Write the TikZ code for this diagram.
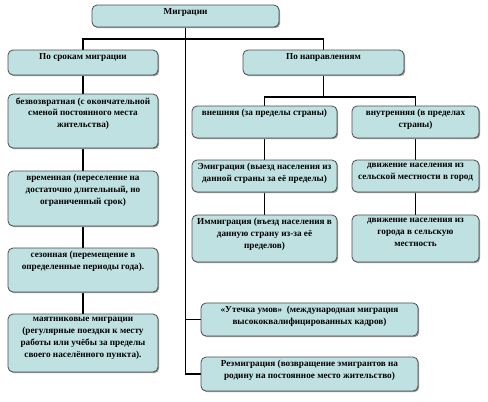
\documentclass[tikz,border=0pt]{standalone}
\usepackage{fontspec}
\setmainfont{Liberation Serif}
\usepackage{tikz}
\usetikzlibrary{positioning, backgrounds, shadows}
\definecolor{boxFill}{HTML}{BFE1E1}
\definecolor{boxEdge}{HTML}{4D4D4D}
% box text: width, height (px), text
\newcommand{\boxtext}[3]{\parbox[c][\dimexpr#2pt-7pt\relax][t]{\dimexpr#1pt-4pt\relax}{\centering #3}}

\begin{document}
\begin{tikzpicture}[x=1pt, y=-1pt,
    mbox/.style={draw=boxEdge, fill=boxFill, line width=0.8pt, rounded corners=5pt,
      inner xsep=2pt, inner ysep=3.5pt, font=\fontsize{9.2}{11.8}\selectfont\bfseries,
      drop shadow={shadow xshift=1.2pt, shadow yshift=-1.2pt, fill=black!40, opacity=1}},
    conn/.style={line width=1.6pt, black}]
  \useasboundingbox (0,0) rectangle (488,402);

  % top level
  \node[mbox] (mig)  at (185.5,16)  {\boxtext{187}{22}{Миграции}};
  \node[mbox] (srok) at (83,62.5)   {\boxtext{150}{25}{По срокам миграции}};
  \node[mbox] (napr) at (323.5,62.5){\boxtext{161}{25}{По направлениям}};

  % by duration
  \node[mbox] (bezv)  at (83,121)   {\boxtext{150}{54}{безвозвратная (с окончательной\\ сменой постоянного места\\ жительства)}};
  \node[mbox] (vrem)  at (83,198.5) {\boxtext{150}{55}{временная (переселение на\\ достаточно длительный, но\\ ограниченный срок)}};
  \node[mbox] (sezon) at (83,270)   {\boxtext{150}{44}{сезонная (перемещение в\\ определенные периоды года).}};
  \node[mbox] (mayat) at (83,343)   {\boxtext{150}{58}{маятниковые миграции\\ (регулярные поездки к месту\\ работы или учёбы за пределы\\ своего населённого пункта).}};

  % by direction
  \node[mbox] (vnesh) at (264.5,122) {\boxtext{145}{32}{внешняя (за пределы страны)}};
  \node[mbox] (vnutr) at (415.5,122) {\boxtext{127}{32}{внутренняя (в пределах\\ страны)}};
  \node[mbox] (emig)  at (264.5,176) {\boxtext{145}{32}{Эмиграция (выезд населения из\\ данной страны за её пределы)}};
  \node[mbox] (immig) at (264.5,238.5) {\boxtext{145}{47}{Иммиграция (въезд населения в\\ данную страну из-за её\\ пределов)}};
  \node[mbox] (gorod) at (415.5,176) {\boxtext{127}{32}{движение населения из\\ сельской местности в город}};
  \node[mbox] (selo)  at (415.5,238.5) {\boxtext{127}{47}{движение населения из\\ города в сельскую\\ местность}};

  \node[mbox] (utech) at (309.5,319.5) {\boxtext{217}{33}{«Утечка умов»\ \ (международная миграция\\ высококвалифицированных кадров)}};
  \node[mbox] (reem)  at (309.5,374)   {\boxtext{217}{34}{Реэмиграция (возвращение эмигрантов на\\ родину на постоянное место жительство)}};

  \coordinate (bar)  at (0,39);
  \coordinate (rbar) at (0,97);

  \begin{scope}[on background layer]
    \draw[conn] (mig.south) |- (reem.west);
    \draw[conn] (mig.south |- utech.west) -- (utech.west);
    \draw[conn] (srok.north) |- (napr.north |- bar) -- (napr.north);
    \draw[conn] (srok.south) -- (mayat.north);
    \draw[conn] (napr.south) -- (napr.south |- rbar);
    \draw[conn] (vnesh.north) |- (vnutr.north |- rbar) -- (vnutr.north);
    \draw[conn] (vnesh.south) -- (immig.north);
    \draw[conn] (vnutr.south) -- (selo.north);
  \end{scope}
\end{tikzpicture}
\end{document}
